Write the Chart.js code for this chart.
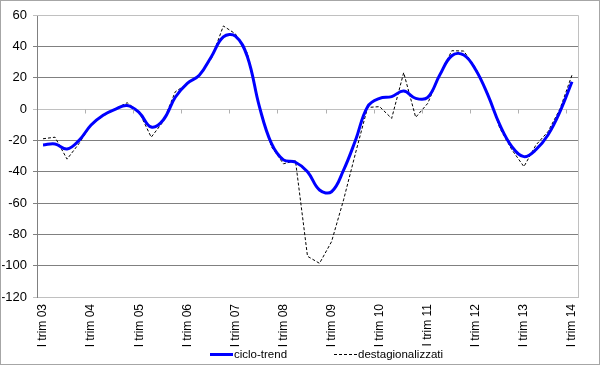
<!DOCTYPE html>
<html>
<head>
<meta charset="utf-8">
<script src="https://cdn.jsdelivr.net/npm/chart.js@4.4.1/dist/chart.umd.min.js"></script>
<style>
    html, body { margin: 0; padding: 0; background: #fff; }
    #wrap { width: 600px; height: 365px; }
</style>
</head>
<body>
<div id="wrap"><canvas id="line-chart" width="600" height="365"></canvas></div>
<script>
    "use strict";

    // Data
    var years = ["03", "04", "05", "06", "07", "08", "09", "10", "11", "12", "13", "14"];
    var quarters = ["I", "II", "III", "IV"];

    var cicloTrend = [-23, -22.3, -25.5, -20, -10.2, -4, -0.2, 2.2, -2.3, -11.5, -7, 7.5,
        16.4, 21.5, 33.4, 46, 46.5, 33.4, 1.5, -22, -32.5, -34, -40, -51.7, -52.8, -39,
        -19.8, 1.5, 6.8, 7.9, 11.5, 6.8, 7.4, 21.7, 34, 34.5, 24.9, 9, -10.2, -24, -30.4,
        -26, -16.6, -1.7, 17.4];

    var destagionalizzati = [-19, -18, -32, -22, -10, -4.5, 0, 4, -2, -18, -8, 11,
        16, 21.7, 32, 53, 48, 35.5, 1.5, -24, -35, -33, -94, -98.5, -84.7, -58,
        -28, 1, 1.5, -6, 23.2, -5.3, 3.6, 21.7, 37.2, 37, 26, 10, -12.3, -26, -36.8,
        -23, -14.5, 0, 21.7];

    var yTicks = [-120, -100, -80, -60, -40, -20, 0, 20, 40, 60];

    // quarter labels, only "I trim" ones are shown
    var labels = [];
    years.forEach(function (y, yi) {
        quarters.forEach(function (q) {
            if (yi < years.length - 1 || q === "I") labels.push(q + " trim " + y);
        });
    });

    // Background, frame, zero line ticks and legend
    var decor = {
        id: "decor",
        beforeDraw: function (chart) {
            var ctx = chart.ctx;
            ctx.save();
            ctx.fillStyle = "#fff";
            ctx.fillRect(0, 0, chart.width, chart.height);
            ctx.restore();
        },
        afterDraw: function (chart) {
            var ctx = chart.ctx, a = chart.chartArea;
            var x = chart.scales.x, y = chart.scales.y;
            ctx.save();
            // plot frame (top, right)
            ctx.strokeStyle = "#c0c0c0";
            ctx.lineWidth = 1;
            ctx.beginPath();
            ctx.moveTo(a.left, Math.round(a.top) + 0.5);
            ctx.lineTo(Math.round(a.right) + 0.5, Math.round(a.top) + 0.5);
            ctx.lineTo(Math.round(a.right) + 0.5, a.bottom);
            ctx.stroke();
            // outer border
            ctx.strokeStyle = "#a6a6a6";
            ctx.strokeRect(0.5, 0.5, chart.width - 1, chart.height - 1);
            // tick marks on the zero line
            var y0 = Math.round(y.getPixelForValue(0)) + 0.5;
            ctx.strokeStyle = "#b0b0b0";
            ctx.beginPath();
            for (var i = 3; i < labels.length - 1; i += 4) {
                var px = Math.round((x.getPixelForValue(i) + x.getPixelForValue(i + 1)) / 2) + 0.5;
                ctx.moveTo(px, y0);
                ctx.lineTo(px, y0 + 4);
            }
            ctx.stroke();
            // legend
            var items = [
                { ds: chart.data.datasets[0], x: 210 },
                { ds: chart.data.datasets[1], x: 334 }
            ];
            var ly = 354;
            ctx.font = "11.5px 'Liberation Sans', Arial, sans-serif";
            ctx.textBaseline = "middle";
            ctx.fillStyle = "#000";
            items.forEach(function (it) {
                ctx.save();
                ctx.strokeStyle = it.ds.borderColor;
                ctx.lineWidth = it.ds.borderWidth;
                ctx.setLineDash(it.ds.borderDash || []);
                ctx.beginPath();
                ctx.moveTo(it.x, ly + 0.5);
                ctx.lineTo(it.x + 23, ly + 0.5);
                ctx.stroke();
                ctx.restore();
                ctx.fillText(it.ds.label, it.x + 24, ly + 1);
            });
            ctx.restore();
        }
    };

    // Line Chart
    var ctx1 = document.getElementById("line-chart").getContext("2d");
    var myChart1 = new Chart(ctx1, {
        type: "line",
        data: {
            labels: labels,
            datasets: [{
                    label: "ciclo-trend",
                    data: cicloTrend,
                    borderColor: "#0000ff",
                    borderWidth: 3,
                    tension: 0.4,
                    pointRadius: 0,
                    fill: false,
                    order: 0
                },
                {
                    label: "destagionalizzati",
                    data: destagionalizzati,
                    borderColor: "#000000",
                    borderWidth: 1,
                    borderDash: [3, 2],
                    tension: 0,
                    pointRadius: 0,
                    fill: false,
                    order: 1
                }
            ]
        },
        options: {
            responsive: false,
            animation: false,
            devicePixelRatio: 1,
            layout: { padding: { left: 2, top: 15, right: 22, bottom: 10 } },
            plugins: {
                legend: { display: false },
                tooltip: { enabled: false }
            },
            scales: {
                x: {
                    offset: true,
                    grid: { display: false, drawTicks: false },
                    border: { color: "#c0c0c0" },
                    ticks: {
                        autoSkip: false,
                        minRotation: 90,
                        maxRotation: 90,
                        padding: 7,
                        color: "#000",
                        font: { family: "'Liberation Sans', Arial, sans-serif", size: 12 },
                        callback: function (v, i) {
                            return i % 4 === 0 ? labels[i] : "";
                        }
                    },
                    afterFit: function (s) { s.height = 58; }
                },
                y: {
                    min: yTicks[0],
                    max: yTicks[yTicks.length - 1],
                    afterBuildTicks: function (s) {
                        s.ticks = yTicks.map(function (v) { return { value: v }; });
                    },
                    grid: {
                        tickLength: 4,
                        color: function (c) {
                            var v = c.tick.value;
                            return (v === 0 || v === 60 || v === -120) ? "#c0c0c0" : "#808080";
                        }
                    },
                    border: { color: "#808080" },
                    ticks: {
                        padding: 6,
                        color: "#000",
                        font: { family: "'Liberation Sans', Arial, sans-serif", size: 13 }
                    },
                    afterFit: function (s) { s.width = 35; }
                }
            }
        },
        plugins: [decor]
    });
</script>
</body>
</html>
